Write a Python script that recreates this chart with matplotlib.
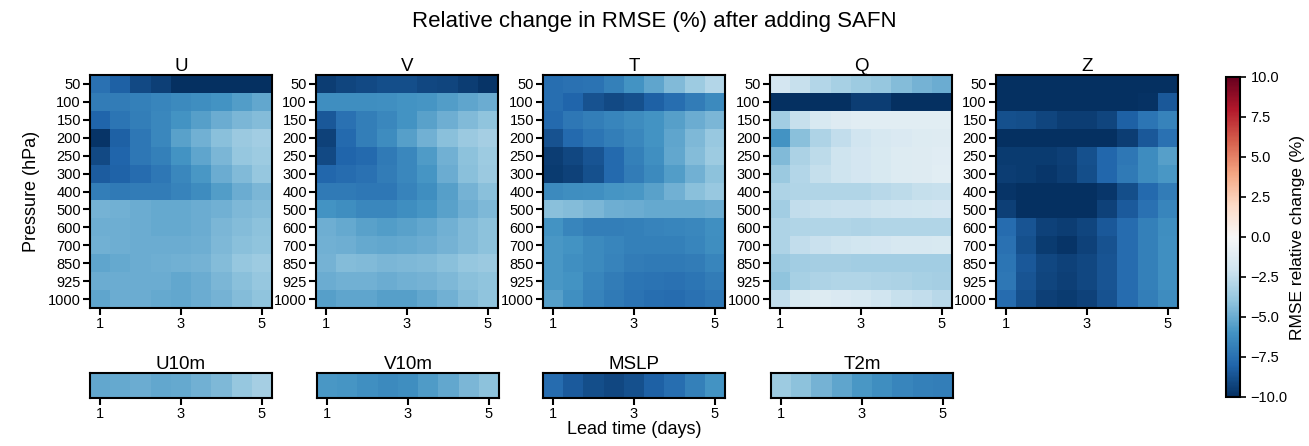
import numpy as np
import matplotlib
matplotlib.use("Agg")
import matplotlib.pyplot as plt

plt.rcParams['font.family'] = ['Liberation Sans', 'DejaVu Sans']

# lead times (days) and pressure levels
lead_times = [1, 1.5, 2, 2.5, 3, 3.5, 4, 4.5, 5]
levels = [50, 100, 150, 200, 250, 300, 400, 500, 600, 700, 850, 925, 1000]

# relative change in RMSE (%), rows = levels, cols = lead times
u_vals = [
    [-7.5, -8.2, -9.0, -9.4, -10, -10, -10, -10, -10],
    [-7.0, -7.0, -6.8, -6.6, -6.4, -6.2, -6.0, -5.6, -5.2],
    [-8.0, -7.3, -6.9, -6.5, -6.0, -5.5, -5.0, -4.6, -4.3],
    [-9.8, -8.2, -7.2, -6.5, -5.4, -4.8, -4.2, -3.7, -3.5],
    [-9.0, -8.0, -7.2, -6.8, -6.0, -5.3, -4.6, -3.9, -3.6],
    [-8.3, -8.1, -7.7, -7.2, -6.5, -5.8, -5.0, -4.4, -3.9],
    [-6.9, -7.1, -7.0, -7.0, -6.7, -6.3, -5.6, -5.0, -4.6],
    [-4.7, -4.8, -5.0, -5.1, -5.1, -5.0, -4.8, -4.5, -4.3],
    [-4.9, -4.9, -5.0, -5.1, -5.1, -5.0, -4.6, -4.3, -4.1],
    [-4.8, -4.9, -5.0, -5.0, -5.0, -4.9, -4.5, -4.2, -4.0],
    [-5.3, -5.1, -5.0, -4.9, -4.8, -4.7, -4.3, -3.9, -3.6],
    [-5.0, -5.0, -5.0, -5.0, -5.2, -5.0, -4.6, -4.2, -3.9],
    [-5.3, -5.0, -5.0, -5.1, -5.2, -5.0, -4.7, -4.3, -4.0],
]
v_vals = [
    [-9.5, -9.2, -9.0, -8.9, -8.9, -9.1, -9.2, -9.5, -9.8],
    [-6.2, -6.2, -6.2, -6.1, -6.0, -5.9, -5.6, -5.3, -5.0],
    [-8.5, -7.5, -6.9, -6.5, -6.0, -5.4, -4.9, -4.4, -4.0],
    [-9.3, -7.8, -6.9, -6.3, -5.5, -4.8, -4.2, -3.7, -3.4],
    [-9.0, -8.0, -7.8, -7.1, -6.5, -5.7, -4.8, -4.1, -3.6],
    [-7.9, -7.7, -7.5, -7.0, -6.5, -5.9, -5.0, -4.2, -3.7],
    [-7.1, -7.1, -7.2, -7.2, -6.7, -6.2, -5.5, -4.7, -4.2],
    [-6.0, -6.2, -6.5, -6.5, -6.2, -5.9, -5.4, -4.9, -4.5],
    [-4.9, -5.1, -5.4, -5.6, -5.4, -5.2, -4.8, -4.4, -4.1],
    [-4.8, -4.9, -5.1, -5.2, -5.1, -5.0, -4.7, -4.4, -4.1],
    [-4.7, -4.3, -4.4, -4.6, -4.5, -4.4, -4.2, -3.9, -3.7],
    [-5.0, -4.8, -4.8, -5.0, -4.8, -4.7, -4.5, -4.2, -4.0],
    [-5.5, -5.3, -5.3, -5.5, -5.5, -5.2, -4.8, -4.3, -4.0],
]
t_vals = [
    [-7.6, -7.5, -7.4, -6.8, -6.0, -5.3, -4.4, -3.6, -2.9],
    [-7.6, -8.0, -8.7, -9.0, -8.8, -8.2, -7.6, -7.0, -6.4],
    [-7.8, -7.2, -6.9, -6.6, -6.3, -6.0, -5.5, -5.0, -4.6],
    [-8.7, -7.8, -7.3, -6.9, -6.5, -6.0, -5.3, -4.5, -3.8],
    [-9.5, -9.1, -8.6, -7.8, -6.8, -6.1, -5.2, -4.3, -3.6],
    [-9.6, -9.3, -8.8, -7.8, -7.0, -6.4, -5.6, -4.8, -4.1],
    [-6.4, -6.2, -6.1, -5.9, -5.8, -5.4, -4.8, -4.2, -3.8],
    [-4.2, -4.3, -4.6, -4.9, -5.0, -5.1, -5.1, -5.1, -5.0],
    [-6.0, -6.6, -6.9, -6.9, -6.8, -6.7, -6.6, -6.5, -6.1],
    [-5.8, -6.0, -6.4, -6.6, -6.8, -6.8, -6.8, -6.6, -6.2],
    [-5.8, -6.1, -6.4, -6.7, -7.0, -7.1, -7.1, -7.0, -6.6],
    [-5.8, -6.0, -6.6, -7.0, -7.3, -7.4, -7.5, -7.3, -7.0],
    [-5.5, -6.1, -6.7, -7.1, -7.4, -7.6, -7.7, -7.5, -7.2],
]
q_vals = [
    [-1.8, -2.3, -2.9, -3.3, -3.6, -3.9, -4.3, -4.7, -5.0],
    [-10, -10, -10, -10, -9.5, -9.5, -10, -10, -10],
    [-3.5, -2.3, -1.6, -1.3, -1.1, -1.1, -1.1, -1.1, -1.1],
    [-6.0, -4.2, -3.1, -2.5, -2.0, -1.7, -1.5, -1.4, -1.3],
    [-4.4, -3.2, -2.6, -2.1, -1.8, -1.6, -1.4, -1.3, -1.2],
    [-3.7, -2.9, -2.4, -2.1, -1.8, -1.6, -1.4, -1.3, -1.1],
    [-3.1, -3.0, -3.0, -3.0, -3.0, -2.8, -2.6, -2.4, -2.3],
    [-3.5, -2.5, -2.3, -2.2, -2.2, -2.1, -2.0, -1.9, -1.8],
    [-3.1, -3.0, -3.0, -3.0, -3.1, -3.0, -3.0, -3.0, -3.0],
    [-3.1, -2.5, -2.2, -2.1, -1.9, -1.8, -1.7, -1.7, -1.6],
    [-3.7, -3.5, -3.4, -3.4, -3.5, -3.5, -3.5, -3.5, -3.5],
    [-4.0, -3.3, -3.1, -3.0, -3.0, -3.1, -3.2, -3.3, -3.4],
    [-2.5, -1.6, -1.4, -1.5, -1.7, -2.0, -2.3, -2.5, -2.8],
]
z_vals = [
    [-10, -10, -10, -10, -10, -10, -10, -10, -10],
    [-10, -10, -10, -10, -10, -10, -10, -9.9, -8.5],
    [-8.8, -8.9, -9.2, -9.5, -9.5, -9.2, -8.2, -7.3, -6.7],
    [-10, -10, -10, -10, -10, -10, -9.5, -8.5, -7.5],
    [-9.6, -9.6, -9.6, -9.4, -8.8, -7.9, -7.2, -6.3, -5.5],
    [-9.5, -9.6, -9.7, -9.5, -8.9, -7.9, -7.1, -6.3, -5.8],
    [-9.8, -10, -10, -10, -10, -9.7, -8.9, -7.8, -7.0],
    [-9.4, -10, -10, -10, -10, -9.3, -8.4, -7.5, -6.6],
    [-7.7, -8.6, -9.3, -9.5, -9.2, -8.5, -7.7, -6.8, -6.2],
    [-7.5, -8.8, -9.6, -9.8, -9.3, -8.7, -7.7, -6.8, -6.1],
    [-7.3, -8.5, -9.1, -9.3, -9.1, -8.6, -7.7, -6.8, -6.1],
    [-7.2, -8.6, -9.2, -9.4, -9.1, -8.6, -7.7, -6.8, -6.1],
    [-7.7, -8.8, -9.4, -9.6, -9.3, -8.7, -7.7, -6.9, -6.3],
]
u10m_vals = [-5.2, -5.1, -5.0, -5.2, -5.1, -4.8, -4.5, -3.9, -3.4]
v10m_vals = [-5.8, -5.9, -6.1, -6.4, -6.2, -5.7, -5.2, -4.6, -4.1]
mslp_vals = [-7.7, -8.4, -8.9, -9.1, -8.8, -8.2, -7.6, -6.8, -6.0]
t2m_vals = [-3.6, -4.1, -4.7, -5.3, -5.8, -6.2, -6.6, -6.8, -6.9]

upper_names = ['U', 'V', 'T', 'Q', 'Z']
upper_data = [u_vals, v_vals, t_vals, q_vals, z_vals]
surface_names = ['U10m', 'V10m', 'MSLP', 'T2m']
surface_data = [u10m_vals, v10m_vals, mslp_vals, t2m_vals]

W, H = 1309, 446
fig = plt.figure(figsize=(W / 100, H / 100), dpi=100)


def px_axes(left, top, width, height):
    return fig.add_axes([left / W, (H - top - height) / H, width / W, height / H])


cmap = 'RdBu_r'
vmin, vmax = -10, 10
half = 0.25
x_edges = np.append(np.array(lead_times) - half, lead_times[-1] + half)


def style_axes(ax):
    for s in ax.spines.values():
        s.set_linewidth(1.5)
    ax.tick_params(width=1.5, length=5, labelsize=10.5, pad=1.5)
    ax.set_xticks([1, 3, 5])


lefts = [90, 316, 543, 770, 996]
mesh = None
for i, (name, vals) in enumerate(zip(upper_names, upper_data)):
    ax = px_axes(lefts[i], 75, 182, 233)
    y_edges = np.arange(len(levels) + 1) - 0.5
    mesh = ax.pcolormesh(x_edges, y_edges, np.array(vals), cmap=cmap, vmin=vmin, vmax=vmax)
    ax.set_ylim(len(levels) - 0.5, -0.5)
    ax.set_yticks(range(len(levels)))
    ax.set_yticklabels([str(l) for l in levels])
    style_axes(ax)
    ax.set_title(name, fontsize=13.5, pad=2)
    if i == 0:
        ax.set_ylabel('Pressure (hPa)', fontsize=13, labelpad=6)

surf_lefts = [90, 317, 543, 771]
for i, (name, vals) in enumerate(zip(surface_names, surface_data)):
    ax = px_axes(surf_lefts[i], 373, 182, 25)
    ax.pcolormesh(x_edges, [0, 1], np.array([vals]), cmap=cmap, vmin=vmin, vmax=vmax)
    ax.set_yticks([])
    style_axes(ax)
    ax.set_title(name, fontsize=13.5, pad=2)
    if name == 'MSLP':
        ax.set_xlabel('Lead time (days)', fontsize=13, labelpad=0)

cax = px_axes(1226, 77, 14, 320)
cb = fig.colorbar(mesh, cax=cax)
cb.set_ticks([-10, -7.5, -5, -2.5, 0, 2.5, 5, 7.5, 10])
cb.ax.tick_params(width=1.2, length=4, labelsize=10.5)
cb.outline.set_linewidth(1.5)
cb.set_label('RMSE relative change (%)', fontsize=12.5, labelpad=2)

fig.suptitle('Relative change in RMSE (%) after adding SAFN', fontsize=16, y=0.975)

fig.savefig('out.png', dpi=100)
